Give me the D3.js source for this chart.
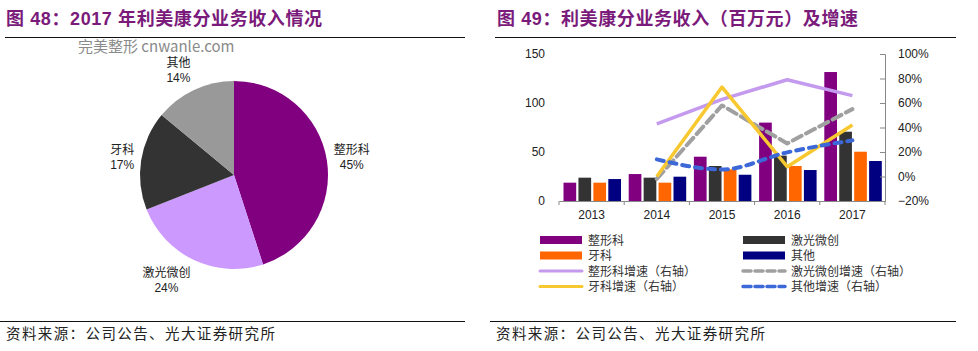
<!DOCTYPE html>
<html><head><meta charset="utf-8">
<script src="https://cdn.jsdelivr.net/npm/d3@7"></script>
<style>body{margin:0;background:#fff}svg{display:block}</style>
</head><body><svg id="c" width="978" height="351"></svg>
<script>
// ---------- data ----------
const pieCategories = ["整形科", "激光微创", "牙科", "其他"];
const pieShares = [45, 24, 17, 14];

const years = ["2013", "2014", "2015", "2016", "2017"];
const barSeries = ["整形科", "激光微创", "牙科", "其他"];
const revZhengxing = [18.7, 27.5, 45.2, 80.0, 131.6];
const revJiguang = [23.8, 23.8, 35.7, 46.3, 70.7];
const revYake = [18.7, 18.7, 32.3, 35.7, 50.3];
const revQita = [22.4, 24.8, 26.8, 31.6, 40.8];

const lineSeries = ["整形科增速（右轴）", "激光微创增速（右轴）", "牙科增速（右轴）", "其他增速（右轴）"];
const growZhengxing = [null, 0.43, 0.63, 0.79, 0.66];
const growJiguang = [null, -0.02, 0.58, 0.27, 0.55];
const growYake = [null, 0.00, 0.73, 0.08, 0.42];
const growQita = [null, 0.14, 0.057, 0.197, 0.295];

const leftTicks = [0, 50, 100, 150];
const rightTicks = [-0.2, 0, 0.2, 0.4, 0.6, 0.8, 1.0];

// ---------- styles ----------
const pieColors = ["#800080", "#CC99FF", "#333333", "#999999"];
const barColors = ["#800080", "#333333", "#FF6600", "#000080"];
const lineStyles = [
  {color: "#C49AEE", width: 3.5, dash: null, curve: d3.curveLinear},
  {color: "#A0A0A0", width: 4, dash: "10,5", curve: d3.curveLinear},
  {color: "#F7C830", width: 3.5, dash: null, curve: d3.curveLinear},
  {color: "#3D68D8", width: 4, dash: "7,6", curve: d3.curveMonotoneX}
];
const titleColor = "#7A1A7A";
const cjk = "'Liberation Sans', Arial, 'Noto Sans CJK SC', sans-serif";

const svg = d3.select("#c");
svg.append("rect").attr("width", 978).attr("height", 351).attr("fill", "#fff");

// ---------- titles / frames ----------
function title(x, txt) {
  svg.append("text").attr("x", x).attr("y", 25).attr("fill", titleColor)
    .attr("font-family", cjk).attr("font-weight", "bold").attr("font-size", 18)
    .attr("letter-spacing", 0.6).text(txt);
}
title(6, "图 48：2017 年利美康分业务收入情况");
title(497, "图 49：利美康分业务收入（百万元）及增速");

[[5, 465], [495, 956]].forEach(([a, b]) => {
  svg.append("line").attr("x1", a).attr("x2", b).attr("y1", 37.5).attr("y2", 37.5)
    .attr("stroke", "#111").attr("stroke-width", 1.2);
  svg.append("line").attr("x1", a - 5).attr("x2", b).attr("y1", 321.5).attr("y2", 321.5)
    .attr("stroke", "#111").attr("stroke-width", 1.2);
  svg.append("text").attr("x", a + 1).attr("y", 339).attr("fill", "#222")
    .attr("font-family", cjk).attr("font-size", 14.5)
    .attr("letter-spacing", 1.4).text("资料来源：公司公告、光大证券研究所");
});

svg.append("text").attr("x", 78).attr("y", 52).attr("fill", "#8a8a8a")
  .attr("font-family", "'Noto Sans CJK SC', 'Liberation Sans', sans-serif").attr("font-size", 15)
  .text("完美整形 cnwanle.com");

// ---------- pie ----------
const pcx = 234, pcy = 175, pr = 94;
const pieData = d3.pie().sort(null).value(d => d.v)(pieCategories.map((c, i) => ({c, v: pieShares[i], i})));
const arc = d3.arc().innerRadius(0).outerRadius(pr);
const pg = svg.append("g").attr("transform", `translate(${pcx},${pcy})`);
pg.selectAll("path").data(pieData).join("path").attr("d", arc).attr("fill", d => pieColors[d.data.i]);

const labelR = 100;
pieData.forEach(d => {
  const a = (d.startAngle + d.endAngle) / 2;
  const s = Math.sin(a), c = Math.cos(a);
  const ax = labelR * s, ay = -labelR * c;
  const g = pg.append("g");
  const t1 = g.append("text").attr("text-anchor", "middle").attr("font-size", 12).attr("fill", "#222")
    .attr("font-family", cjk).attr("y", -3).text(d.data.c);
  const t2 = g.append("text").attr("text-anchor", "middle").attr("font-size", 12).attr("fill", "#222")
    .attr("font-family", cjk).attr("y", 12).text(d.data.v + "%");
  const hw = Math.max(t1.node().getComputedTextLength(), t2.node().getComputedTextLength()) / 2 + 1;
  const hh = 16;
  const cx = ax + Math.sign(s) * hw, cy = ay - c * hh;
  g.attr("transform", `translate(${cx},${cy})`);
});

// ---------- combo chart ----------
const x0 = d3.scaleBand().domain(years).range([559, 885]).paddingInner(0).paddingOuter(0);
const x1 = d3.scaleBand().domain(barSeries).range([4.5, 62]).paddingInner(0.15);
const yL = d3.scaleLinear().domain([0, 150]).range([201, 54]);
const yR = d3.scaleLinear().domain([-0.2, 1.0]).range([201, 54]);

const barValues = [revZhengxing, revJiguang, revYake, revQita];
const bg = svg.append("g");
years.forEach((yr, yi) => {
  barSeries.forEach((s, si) => {
    const v = barValues[si][yi];
    bg.append("rect").attr("x", x0(yr) + x1(s)).attr("width", x1.bandwidth())
      .attr("y", yL(v)).attr("height", yL(0) - yL(v)).attr("fill", barColors[si]);
  });
});

// x axis
const xa = svg.append("g").attr("transform", `translate(0,${yL(0)})`)
  .call(d3.axisBottom(x0).tickSize(0).tickPadding(9));
xa.select(".domain").attr("stroke", "#888");
xa.selectAll("text").attr("font-size", 12).attr("font-family", cjk).attr("fill", "#222");
const bounds = years.map(y => x0(y)).concat([x0.range()[1]]);
svg.append("g").selectAll("line").data(bounds).join("line")
  .attr("x1", d => d).attr("x2", d => d).attr("y1", yL(0)).attr("y2", yL(0) + 4).attr("stroke", "#888");

// left axis (labels only)
const la = svg.append("g").attr("transform", "translate(559,0)")
  .call(d3.axisLeft(yL).tickValues(leftTicks).tickSize(0).tickPadding(14));
la.select(".domain").remove();
la.selectAll("text").attr("font-size", 12).attr("font-family", cjk).attr("fill", "#222");

// right axis
const ra = svg.append("g").attr("transform", "translate(885,0)")
  .call(d3.axisRight(yR).tickValues(rightTicks).tickSize(-5).tickPadding(13).tickFormat(d3.format(".0%")));
ra.select(".domain").attr("stroke", "#888");
ra.selectAll(".tick line").attr("stroke", "#888");
ra.selectAll("text").attr("font-size", 12).attr("font-family", cjk).attr("fill", "#222");

// lines
const lineValues = [growZhengxing, growJiguang, growYake, growQita];
const lg = svg.append("g");
lineValues.forEach((vals, i) => {
  const st = lineStyles[i];
  const pts = years.map((y, k) => [x0(y) + x0.bandwidth() / 2, vals[k]]).filter(p => p[1] != null);
  const gen = d3.line().x(p => p[0]).y(p => yR(p[1])).curve(st.curve);
  lg.append("path").attr("d", gen(pts)).attr("fill", "none").attr("stroke", st.color)
    .attr("stroke-width", st.width).attr("stroke-dasharray", st.dash)
    .attr("stroke-linejoin", "round").attr("stroke-linecap", st.dash ? "round" : "butt");
});

// legend
const legendItems = [
  {name: barSeries[0], kind: "rect", color: barColors[0]},
  {name: barSeries[1], kind: "rect", color: barColors[1]},
  {name: barSeries[2], kind: "rect", color: barColors[2]},
  {name: barSeries[3], kind: "rect", color: barColors[3]},
  {name: lineSeries[0], kind: "line", st: lineStyles[0]},
  {name: lineSeries[1], kind: "line", st: lineStyles[1]},
  {name: lineSeries[2], kind: "line", st: lineStyles[2]},
  {name: lineSeries[3], kind: "line", st: lineStyles[3]}
];
const legX = [539, 742], legY0 = 240, legDy = 15.5;
legendItems.forEach((it, i) => {
  const col = i % 2, row = Math.floor(i / 2);
  const x = legX[col], y = legY0 + row * legDy;
  if (it.kind === "rect") {
    svg.append("rect").attr("x", x + 1).attr("y", y - 4).attr("width", 42).attr("height", 8).attr("fill", it.color);
  } else {
    svg.append("line").attr("x1", x + 1).attr("x2", x + 43).attr("y1", y).attr("y2", y)
      .attr("stroke", it.st.color).attr("stroke-width", it.st.width - 0.5)
      .attr("stroke-dasharray", it.st.dash ? "8,4" : null)
      .attr("stroke-linecap", "round");
  }
  svg.append("text").attr("x", x + 49).attr("y", y + 4.5).attr("font-size", 12)
    .attr("font-family", cjk).attr("fill", "#333").text(it.name);
});
</script></body></html>
